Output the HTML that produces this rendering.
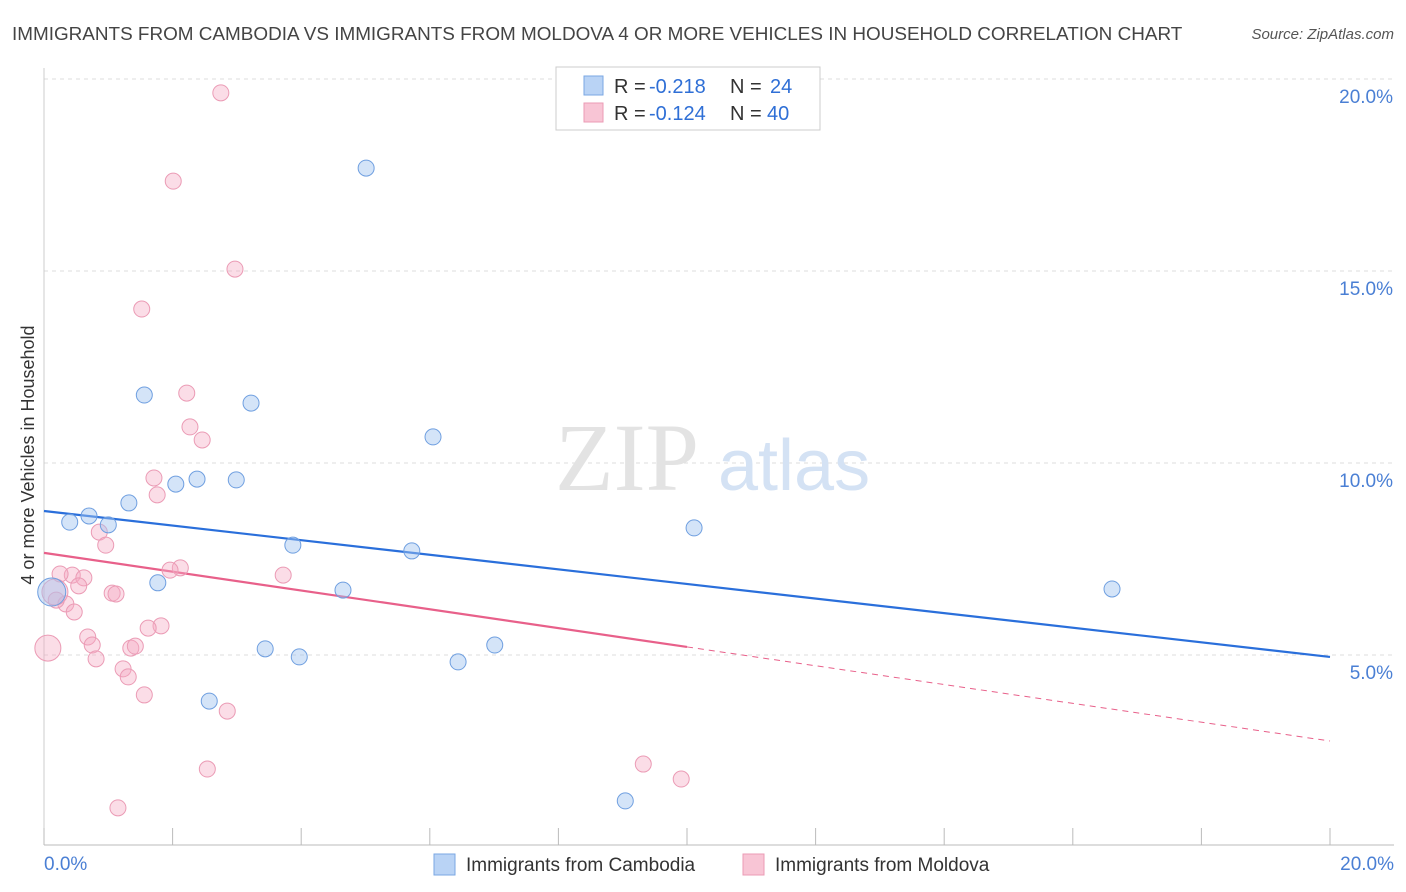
<!DOCTYPE html>
<html><head><meta charset="utf-8"><style>
body{margin:0;background:#fff;font-family:"Liberation Sans",sans-serif;}
svg{display:block}
</style></head><body>
<svg id="chart" width="1406" height="892" xmlns="http://www.w3.org/2000/svg">
<text x="12" y="40" font-size="18.9" fill="#444">IMMIGRANTS FROM CAMBODIA VS IMMIGRANTS FROM MOLDOVA 4 OR MORE VEHICLES IN HOUSEHOLD CORRELATION CHART</text>
<text x="1394" y="39" font-size="15" fill="#555" font-style="italic" text-anchor="end">Source: ZipAtlas.com</text>
<text transform="translate(34,455) rotate(-90)" font-size="18" fill="#333" text-anchor="middle">4 or more Vehicles in Household</text>
<g id="grid"></g>
<g><text x="555" y="490" font-size="96" fill="#e3e3e3" font-family="Liberation Serif,serif">ZIP</text><text x="718" y="490" font-size="72" fill="#d4e2f4">atlas</text></g>
<g id="lines"></g>
<g id="points"></g>
<g>
<rect x="556" y="67" width="264" height="63" fill="#fff" stroke="#ccc"/>
<rect x="584" y="76" width="19" height="19" fill="#b9d3f5" stroke="#7aa7e3"/>
<rect x="584" y="103" width="19" height="19" fill="#f8c5d5" stroke="#eb9bb5"/>
<text x="614" y="93" font-size="20" fill="#333">R =</text><text x="649" y="93" font-size="20" fill="#2f6fd6">-0.218</text>
<text x="730" y="93" font-size="20" fill="#333">N =</text><text x="770" y="93" font-size="20" fill="#2f6fd6">24</text>
<text x="614" y="120" font-size="20" fill="#333">R =</text><text x="649" y="120" font-size="20" fill="#2f6fd6">-0.124</text>
<text x="730" y="120" font-size="20" fill="#333">N =</text><text x="767" y="120" font-size="20" fill="#2f6fd6">40</text>
</g>
<g>
<rect x="434" y="854" width="21" height="21" fill="#b9d3f5" stroke="#7aa7e3"/>
<text x="466" y="871" font-size="19" fill="#333">Immigrants from Cambodia</text>
<rect x="743" y="854" width="21" height="21" fill="#f8c5d5" stroke="#eb9bb5"/>
<text x="775" y="871" font-size="19" fill="#333">Immigrants from Moldova</text>
</g>
</svg>
<script>
const yTicks=[5,10,15,20];
const xTickLabels=["0.0%","20.0%"];
const blueX=[5.01,1.56,3.22,6.05,2.38,2.05,2.99,1.32,0.70,0.40,1.00,10.11,3.87,5.72,1.77,4.65,16.61,3.44,3.97,6.44,7.01,2.57,9.04,0.12];
const blueY=[17.68,11.77,11.56,10.68,9.58,9.45,9.56,8.96,8.62,8.46,8.39,8.31,7.86,7.71,6.88,6.69,6.72,5.16,4.95,4.82,5.26,3.80,1.20,6.64];
const pinkX=[2.75,2.01,2.97,1.52,2.22,2.27,2.46,1.71,1.76,0.86,0.96,0.44,0.62,0.25,0.54,1.06,1.12,2.12,1.96,3.72,0.34,0.47,0.19,1.82,1.62,0.68,0.75,1.35,1.42,0.81,1.23,1.31,1.56,2.85,2.54,9.32,9.91,1.15,0.06,0.17];
const pinkY=[19.64,17.34,15.05,14.01,11.82,10.94,10.60,9.61,9.17,8.20,7.86,7.08,7.01,7.11,6.80,6.61,6.59,7.27,7.21,7.08,6.33,6.12,6.43,5.76,5.70,5.47,5.26,5.18,5.23,4.90,4.64,4.43,3.96,3.54,2.03,2.16,1.77,1.02,5.18,6.64];
const blueTrend=[8.75,4.95];
const pinkTrend=[7.66,5.21,2.76];
const X=v=>44+v*64.3, Y=v=>847-v*38.4;
const NS="http://www.w3.org/2000/svg";
function mk(t,a,p){const e=document.createElementNS(NS,t);for(const k in a)e.setAttribute(k,a[k]);p.appendChild(e);return e;}
const g=document.getElementById('grid');
yTicks.forEach(t=>{
 const l=mk('line',{x1:44,x2:1394,y1:Y(t),y2:Y(t),stroke:'#ddd','stroke-dasharray':'4,4'},g);
 
 
 const tx=mk('text',{x:1393,y:Y(t)+24,'font-size':19,fill:'#4a7fd4','text-anchor':'end'},g);
 tx.textContent=t.toFixed(1)+'%';
 
 
});
const ax=mk('line',{x1:44,x2:1394,y1:845,y2:845,stroke:'#bbb'},g);


const ay=mk('line',{x1:44,x2:44,y1:68,y2:845,stroke:'#ccc'},g);


for(let i=0;i<=10;i++){const tk=mk('line',{x1:X(i*2),x2:X(i*2),y1:828,y2:845,stroke:'#bbb'},g);
 
 }
[[0,'start',44],[20,'end',1394]].forEach((d,i)=>{const t=mk('text',{x:d[2],y:870,'font-size':19,fill:'#4a7fd4','text-anchor':d[1]},g);t.textContent=xTickLabels[i];
 
 });
const L=document.getElementById('lines');
const bl=mk('line',{x1:X(0),y1:Y(blueTrend[0]),x2:X(20),y2:Y(blueTrend[1]),stroke:'#2a6fdb','stroke-width':2.2},L);


const pl=mk('line',{x1:X(0),y1:Y(pinkTrend[0]),x2:X(10),y2:Y(pinkTrend[1]),stroke:'#e8608a','stroke-width':2.2},L);


const pd=mk('line',{x1:X(10),y1:Y(pinkTrend[1]),x2:X(20),y2:Y(pinkTrend[2]),stroke:'#e8608a','stroke-width':1,'stroke-dasharray':'6,5'},L);


const P=document.getElementById('points');
pinkX.forEach((x,i)=>{const big=i>=38;const c=mk('circle',{cx:X(x),cy:Y(pinkY[i]),r:big?13:8,fill:'rgba(245,170,196,0.4)',stroke:'#eb9bb5','stroke-width':1},P);
 
 });
blueX.forEach((x,i)=>{const big=i==23;const c=mk('circle',{cx:X(x),cy:Y(blueY[i]),r:big?14:8,fill:'rgba(160,195,240,0.45)',stroke:'#6f9fe0','stroke-width':1},P);
 
 });
</script>
</body></html>
